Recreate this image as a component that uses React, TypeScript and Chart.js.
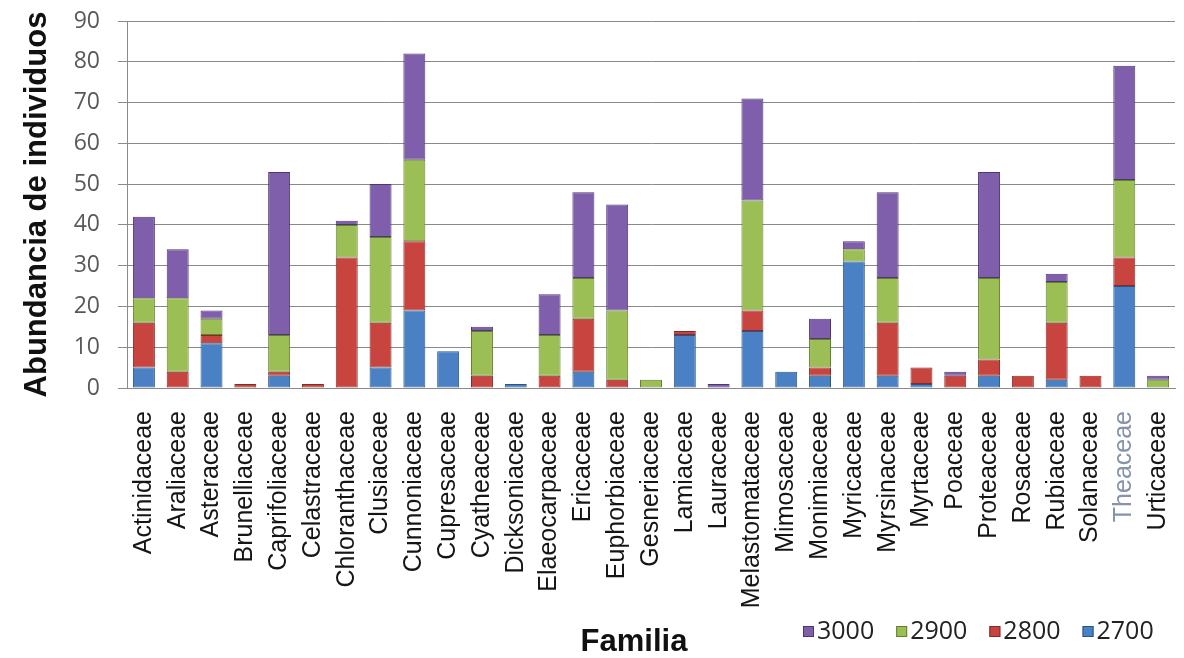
import { useEffect, useRef } from "react";
import { Chart, registerables } from "chart.js";

Chart.register(...registerables);

// Plant families (x-axis categories)
const familias = [
  "Actinidaceae", "Araliaceae", "Asteraceae", "Brunelliaceae", "Caprifoliaceae",
  "Celastraceae", "Chloranthaceae", "Clusiaceae", "Cunnoniaceae", "Cupresaceae",
  "Cyatheaceae", "Dicksoniaceae", "Elaeocarpaceae", "Ericaceae", "Euphorbiaceae",
  "Gesneriaceae", "Lamiaceae", "Lauraceae", "Melastomataceae", "Mimosaceae",
  "Monimiaceae", "Myricaceae", "Myrsinaceae", "Myrtaceae", "Poaceae",
  "Proteaceae", "Rosaceae", "Rubiaceae", "Solanaceae", "Theaceae", "Urticaceae",
];

// Number of individuals per family at each altitude (m)
const alt2700 = [5, 0, 11, 0, 3, 0, 0, 5, 19, 9, 0, 1, 0, 4, 0, 0, 13, 0, 14, 4, 3, 31, 3, 1, 0, 3, 0, 2, 0, 25, 0];
const alt2800 = [11, 4, 2, 1, 1, 1, 32, 11, 17, 0, 3, 0, 3, 13, 2, 0, 1, 0, 5, 0, 2, 0, 13, 4, 3, 4, 3, 14, 3, 7, 0];
const alt2900 = [6, 18, 4, 0, 9, 0, 8, 21, 20, 0, 11, 0, 10, 10, 17, 2, 0, 0, 27, 0, 7, 3, 11, 0, 0, 20, 0, 10, 0, 19, 2];
const alt3000 = [20, 12, 2, 0, 40, 0, 1, 13, 26, 0, 1, 0, 10, 21, 26, 0, 0, 1, 25, 0, 5, 2, 21, 0, 1, 26, 0, 2, 0, 28, 1];

const seriesLabels = ["2700", "2800", "2900", "3000"];
const seriesValues = [alt2700, alt2800, alt2900, alt3000];
const seriesFill = ["#4a80c4", "#c8453f", "#9cbf55", "#7f5fab"];
const seriesEdge = ["#2b5587", "#852a27", "#62812c", "#4d3672"];

const Y_MIN = 0;
const Y_MAX = 90;
const Y_STEP = 10;

const Y_TITLE = "Abundancia de individuos";
const X_TITLE = "Familia";
const HIGHLIGHTED = "Theaceae";

const SANS = '"Liberation Sans", Arial, sans-serif';
const OPEN = '"Open Sans", "Liberation Sans", sans-serif';

// Draws the x-axis title and the legend side by side along the bottom edge
const bottomRow = {
  id: "bottomRow",
  afterDraw(chart: any) {
    const ctx = chart.ctx as CanvasRenderingContext2D;
    ctx.save();
    ctx.font = `bold 31px ${SANS}`;
    ctx.fillStyle = "#111111";
    ctx.textAlign = "center";
    ctx.textBaseline = "middle";
    ctx.fillText(X_TITLE, 634, 642);

    ctx.font = `25px ${OPEN}`;
    ctx.textAlign = "left";
    let x = 803;
    const items = [...chart.data.datasets].reverse();
    for (const ds of items) {
      ctx.fillStyle = ds.backgroundColor;
      ctx.fillRect(x, 626, 11, 11);
      ctx.strokeStyle = ds.borderColor;
      ctx.lineWidth = 1;
      ctx.strokeRect(x + 0.5, 626.5, 10, 10);
      ctx.fillStyle = "#222222";
      ctx.fillText(ds.label, x + 14, 632);
      x += 14 + ctx.measureText(ds.label).width + 22;
    }
    ctx.restore();
  },
};

export default function App() {
  const ref = useRef<HTMLCanvasElement>(null);

  useEffect(() => {
    if (!ref.current) return;
    const datasets = seriesLabels.map((label, i) => ({
      label,
      data: seriesValues[i].map((v) => (v === 0 ? null : v)),
      backgroundColor: seriesFill[i],
      borderColor: seriesEdge[i],
      borderWidth: 1,
      borderSkipped: false,
      barPercentage: 0.65,
      categoryPercentage: 1.0,
    }));

    const chart = new Chart(ref.current, {
      type: "bar",
      data: { labels: familias, datasets },
      plugins: [bottomRow],
      options: {
        responsive: false,
        maintainAspectRatio: false,
        animation: false,
        layout: { padding: { top: 21, right: 9, bottom: 40, left: 0 } },
        plugins: {
          legend: { display: false },
          tooltip: { enabled: false },
        },
        scales: {
          x: {
            stacked: true,
            grid: { display: false, drawTicks: false },
            border: { display: true, color: "#8a8a8a" },
            ticks: {
              autoSkip: false,
              maxRotation: 90,
              minRotation: 90,
              padding: 23,
              font: { family: SANS, size: 25 },
              color: (c: any) => (familias[c.index] === HIGHLIGHTED ? "#8693a8" : "#151515"),
            },
            afterFit(scale: any) {
              scale.height = 230;
              scale.paddingLeft = 0;
              scale.paddingRight = 0;
            },
          },
          y: {
            stacked: true,
            min: Y_MIN,
            max: Y_MAX,
            ticks: {
              stepSize: Y_STEP,
              padding: 18,
              color: "#595959",
              font: { family: OPEN, size: 23 },
            },
            grid: { color: "#8a8a8a", tickLength: 9, lineWidth: 1 },
            border: { display: true, color: "#8a8a8a" },
            title: {
              display: true,
              text: Y_TITLE,
              color: "#111111",
              font: { family: SANS, size: 31, weight: "bold" },
              padding: { top: 19, bottom: 0 },
            },
            afterFit(scale: any) {
              scale.width = 127;
              scale.paddingTop = 0;
              scale.paddingBottom = 0;
            },
          },
        },
      },
    });
    return () => chart.destroy();
  }, []);

  return (
    <div style={{ position: "fixed", left: 0, top: 0, width: 1184, height: 658, background: "#ffffff" }}>
      <canvas ref={ref} width={1184} height={658} style={{ display: "block" }} />
    </div>
  );
}
